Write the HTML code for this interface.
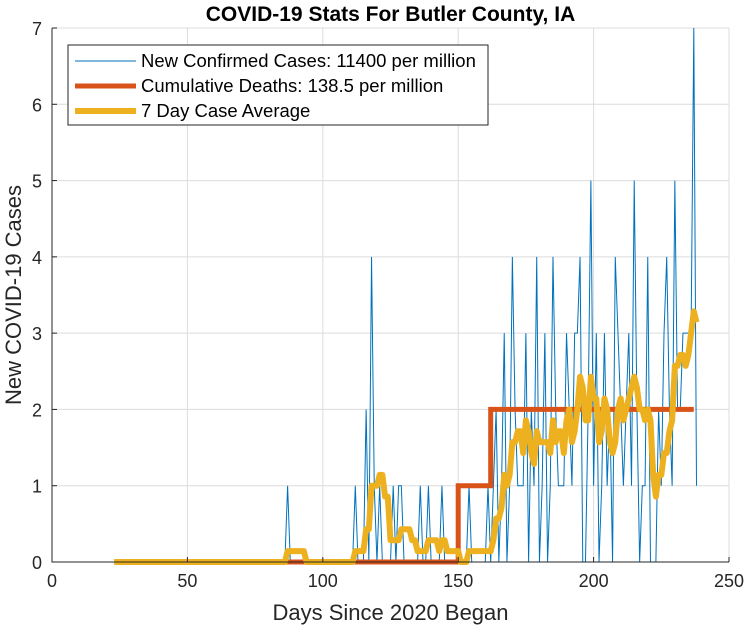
<!DOCTYPE html>
<html><head><meta charset="utf-8"><style>
html,body{margin:0;padding:0;background:#fff;}
svg{display:block;font-family:"Liberation Sans",Arial,sans-serif;}
</style></head><body>
<svg id="chart" width="749" height="630" viewBox="0 0 749 630"></svg>
<script>
const startDay = 23;
const cases = [
0,0,0,0,0,0,0,0,0,0,0,0,0,0,0,0,0,0,0,0,0,0,0,0,0,0,0,0,0,0,0,0,0,0,0,0,0,0,0,0,0,0,0,0,0,0,0,0,0,0,0,0,0,0,0,0,0,0,0,0,0,0,0,0,
1,
0,0,0,0,0,0,0,0,0,0,0,0,0,0,0,0,0,0,0,0,0,0,0,0,
1,0,0,0,2,0,4,1,0,1,0,0,0,0,1,0,1,1,0,0,0,0,0,0,1,0,0,1,0,0,0,0,1,0,0,0,0,0,0,0,0,0,1,0,0,0,0,0,0,1,0,
1,2,0,1,3,0,1,4,2,1,1,1,3,0,2,1,4,0,1,3,0,1,4,2,1,1,1,3,2,1,3,3,4,0,0,2,5,1,3,0,1,3,1,2,0,4,3,2,1,2,3,1,5,2,0,1,1,4,0,0,0,2,1,3,4,2,1,5,2,2,3,3,3,3,7,1
];
const deathDays = [23,150,162,237];
const deathVals = [0,1,2,2];
const xTicks = [0,50,100,150,200,250];
const yTicks = [0,1,2,3,4,5,6,7];

const svg = document.getElementById('chart');
const NS = 'http://www.w3.org/2000/svg';
const L=52,R=729,T=28,B=562;
const xs = d => L + d*(R-L)/250;
const ys = v => B - v*(B-T)/7;
function mk(tag, attrs){const e=document.createElementNS(NS,tag);for(const k in attrs)e.setAttribute(k,attrs[k]);svg.appendChild(e);return e;}

xTicks.forEach(t=>{const g=mk('line',{x1:xs(t),x2:xs(t),y1:T,y2:B,stroke:'#dcdcdc','stroke-width':1});

});
yTicks.forEach(t=>{const g=mk('line',{x1:L,x2:R,y1:ys(t),y2:ys(t),stroke:'#dcdcdc','stroke-width':1});

});

let p='';
cases.forEach((v,i)=>{p+=(i?'L':'M')+xs(startDay+i).toFixed(2)+' '+ys(v).toFixed(2);});
const cl=mk('path',{d:p,fill:'none',stroke:'#0072bd','stroke-width':1});



let dp='M'+xs(deathDays[0])+' '+ys(deathVals[0]);
for(let i=1;i<deathDays.length;i++){dp+='L'+xs(deathDays[i])+' '+ys(deathVals[i-1])+'L'+xs(deathDays[i])+' '+ys(deathVals[i]);}
const dl=mk('path',{d:dp,fill:'none',stroke:'#d95319','stroke-width':5});



let ap='';
cases.forEach((v,i)=>{let s=0;for(let j=Math.max(0,i-6);j<=i;j++){s+=cases[j];}ap+=(i?'L':'M')+xs(startDay+i).toFixed(2)+' '+ys(s/7).toFixed(2);});
const al=mk('path',{d:ap,fill:'none',stroke:'#edb120','stroke-width':6,'stroke-linejoin':'round'});



const ax=mk('path',{d:`M${L} ${T}L${L} ${B}L${R} ${B}`,fill:'none',stroke:'#262626','stroke-width':1});


xTicks.forEach(t=>{mk('line',{x1:xs(t),x2:xs(t),y1:B,y2:B-5,stroke:'#262626'});
const tx=mk('text',{x:xs(t),y:B+25,'text-anchor':'middle','font-size':18,fill:'#262626'});tx.textContent=t;

});
yTicks.forEach(t=>{mk('line',{x1:L,x2:L+5,y1:ys(t),y2:ys(t),stroke:'#262626'});
const tx=mk('text',{x:L-10,y:ys(t)+7,'text-anchor':'end','font-size':18,fill:'#262626'});tx.textContent=t;

});

const xt=mk('text',{x:(L+R)/2,y:620,'text-anchor':'middle','font-size':22,fill:'#262626'});xt.textContent='Days Since 2020 Began';


const yt=mk('text',{x:0,y:0,'text-anchor':'middle','font-size':22,fill:'#262626',transform:`translate(21 ${(T+B)/2}) rotate(-90)`});yt.textContent='New COVID-19 Cases';


const tt=mk('text',{x:(L+R)/2,y:21,'text-anchor':'middle','font-size':21,'font-weight':'bold',fill:'#000'});tt.textContent='COVID-19 Stats For Butler County, IA';



const lb=mk('rect',{x:68,y:45,width:420,height:80,fill:'#fff',stroke:'#262626','stroke-width':1});


const items=[['New Confirmed Cases: 11400 per million','#0072bd',1],['Cumulative Deaths: 138.5 per million','#d95319',5],['7 Day Case Average','#edb120',6]];
items.forEach((it,i)=>{const y=61+i*25;
mk('line',{x1:75,x2:136,y1:y,y2:y,stroke:it[1],'stroke-width':it[2]});
const t=mk('text',{x:141,y:y+6,'font-size':18.5,fill:'#000'});t.textContent=it[0];

});
</script>
</body></html>
